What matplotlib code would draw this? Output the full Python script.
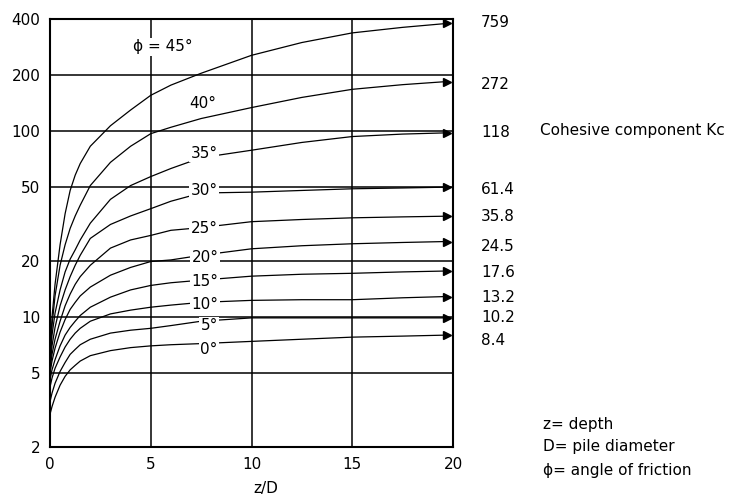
import matplotlib
matplotlib.use("Agg")
import matplotlib.pyplot as plt
from matplotlib.ticker import NullLocator, FixedLocator

# ==============================================================================
# DATA  (z/D vs cohesive component, log scale)
# ==============================================================================
phi_labels = ["ϕ = 45°", "40°", "35°", "30°", "25°", "20°", "15°", "10°", "5°", "0°"]

zD = [0, 0.1, 0.25, 0.5, 0.75, 1, 1.25, 1.5, 2, 3, 4, 5, 6, 7.5, 10, 12.5, 15, 17.5, 19.7]

k45 = [6.0, 10, 15, 24.5, 36, 48, 58, 67, 83, 107, 130, 156, 177, 205, 256, 300, 338, 362, 380]
k40 = [5.8, 9, 13, 19, 24.5, 30, 35, 40, 51, 68, 83, 97, 105, 117, 134, 152, 168, 178, 185]
k35 = [5.6, 8, 10.5, 14, 17.5, 20.5, 23, 26, 32, 43, 51, 57, 63, 72, 79, 87, 93.6, 96.5, 98]
k30 = [5.4, 7, 8.8, 11.5, 14, 16.5, 19, 21.5, 26.5, 31.5, 35, 38.3, 42, 46.5, 47, 48, 49, 49.5, 50]
k25 = [5.2, 6.3, 7.6, 9.5, 11.5, 13.3, 15, 16.5, 19, 23.5, 26, 27.5, 29.3, 30.3, 32.6, 33.5, 34.2, 34.6, 34.9]
k20 = [5.0, 5.8, 6.8, 8.3, 9.7, 11, 12, 13, 14.5, 16.8, 18.5, 19.9, 20.3, 21.5, 23.3, 24.2, 24.8, 25.2, 25.5]
k15 = [4.6, 5.2, 5.9, 7, 8, 8.8, 9.5, 10.2, 11.3, 12.8, 14, 14.8, 15.3, 15.8, 16.6, 17, 17.2, 17.5, 17.7]
k10 = [4.2, 4.7, 5.3, 6.1, 6.9, 7.6, 8.2, 8.7, 9.5, 10.4, 10.9, 11.3, 11.6, 12, 12.3, 12.4, 12.4, 12.7, 12.9]
k05 = [3.5, 3.9, 4.4, 5.1, 5.7, 6.3, 6.7, 7.1, 7.6, 8.2, 8.5, 8.7, 9.0, 9.5, 9.9, 9.9, 9.9, 9.9, 9.9]
k00 = [3.0, 3.3, 3.7, 4.3, 4.8, 5.2, 5.5, 5.8, 6.2, 6.6, 6.85, 7.0, 7.1, 7.2, 7.4, 7.6, 7.8, 7.9, 8.0]

curves = [k45, k40, k35, k30, k25, k20, k15, k10, k05, k00]

# in-chart angle label positions (z/D, K)
label_x = [5.6, 7.6, 7.65, 7.65, 7.65, 7.7, 7.7, 7.7, 7.9, 7.9]
label_y = [284, 141, 76, 47.8, 30, 20.9, 15.5, 11.7, 9.0, 6.7]

# Kc values written at the right of the plot, and their heights
kc_text = ["759", "272", "118", "61.4", "35.8", "24.5", "17.6", "13.2", "10.2", "8.4"]
kc_y = [385, 179, 97.9, 48.4, 34.6, 23.9, 17.4, 12.8, 10.0, 7.5]

x_ticks = [0, 5, 10, 15, 20]
y_ticks = [2, 5, 10, 20, 50, 100, 200, 400]

# ==============================================================================
# PLOT
# ==============================================================================
plt.rcParams["font.family"] = ["DejaVu Sans"]
FS = 11

fig = plt.figure(figsize=(7.51, 4.98), dpi=100)
ax = fig.add_axes([50 / 751, 1 - 447 / 498, 403 / 751, 427.7 / 498])

ax.set_yscale("log")
ax.set_xlim(0, 20)
ax.set_ylim(2, 400)
ax.xaxis.set_major_locator(FixedLocator(x_ticks))
ax.yaxis.set_major_locator(FixedLocator(y_ticks))
ax.yaxis.set_minor_locator(NullLocator())
ax.set_xticklabels([str(v) for v in x_ticks], fontsize=FS)
ax.set_yticklabels([str(v) for v in y_ticks], fontsize=FS)
ax.tick_params(length=0, pad=7)
ax.grid(True, which="major", color="black", lw=1.1, zorder=0)
ax.set_axisbelow(True)
for s in ax.spines.values():
    s.set_linewidth(1.5)

for k in curves:
    ax.plot(zD, k, color="black", lw=0.9, zorder=2)
    ax.plot(zD[-1], k[-1], marker=">", ms=6, color="black", zorder=3)

for txt, lx, ly in zip(phi_labels, label_x, label_y):
    ax.text(lx, ly, txt, fontsize=FS, ha="center", va="center", zorder=4,
            bbox=dict(fc="white", ec="none", pad=1.0))

for txt, ky in zip(kc_text, kc_y):
    ax.text(21.4, ky, txt, fontsize=FS, ha="left", va="center", clip_on=False)

ax.text((266 - 50) / 403, -(488 - 447) / 427.7, "z/D", fontsize=FS,
        ha="center", va="center", transform=ax.transAxes)

fig.text(540 / 751, 1 - 130 / 498, "Cohesive component Kc", fontsize=FS, va="center")
fig.text(543 / 751, 1 - 425 / 498, "z= depth", fontsize=FS, va="center")
fig.text(543 / 751, 1 - 447 / 498, "D= pile diameter", fontsize=FS, va="center")
fig.text(543 / 751, 1 - 470 / 498, "ϕ= angle of friction", fontsize=FS, va="center")

fig.savefig("out.png", dpi=100)
